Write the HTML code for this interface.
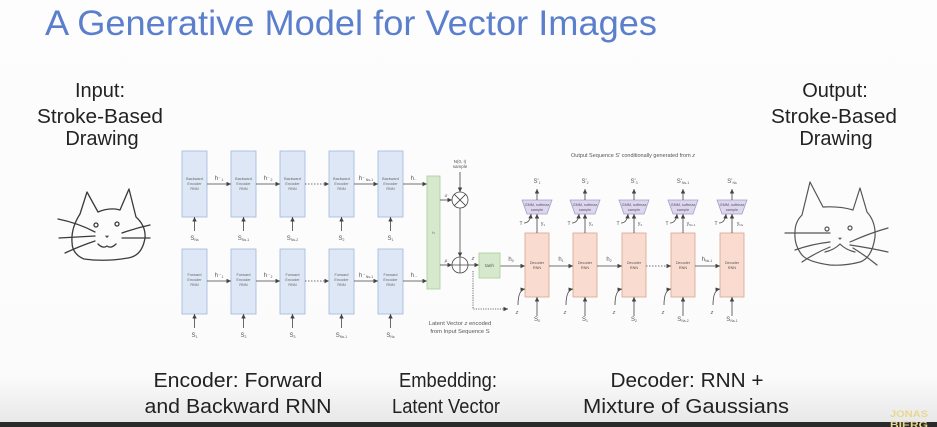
<!DOCTYPE html>
<html><head><meta charset="utf-8"><style>
html,body{margin:0;padding:0;width:937px;height:427px;overflow:hidden;background:#fdfdfd;}
svg{display:block}
</style></head><body>
<svg width="937" height="427" viewBox="0 0 937 427" xmlns="http://www.w3.org/2000/svg" font-family="Liberation Sans, sans-serif">
<defs>
<linearGradient id="bg" x1="0" y1="0" x2="0" y2="1">
<stop offset="0" stop-color="#fdfdfd"/><stop offset="0.88" stop-color="#fbfbfb"/><stop offset="1" stop-color="#e6e6e6"/>
</linearGradient>
<marker id="a" viewBox="0 0 6 6" refX="6" refY="3" markerUnits="userSpaceOnUse" markerWidth="4.5" markerHeight="4.5" orient="auto"><path d="M0,0L6,3L0,6z" fill="#444"/></marker>
</defs>
<rect width="937" height="427" fill="url(#bg)"/>
<rect x="0" y="422" width="937" height="5" fill="#2a2a2a"/>

<!-- Title -->
<text x="45" y="35" font-size="35" fill="#5b7fcc" textLength="612" lengthAdjust="spacingAndGlyphs">A Generative Model for Vector Images</text>

<!-- Side texts -->
<g font-size="20" fill="#222" text-anchor="middle">
<text x="100" y="97">Input:</text>
<text x="100" y="123" textLength="126" lengthAdjust="spacingAndGlyphs">Stroke-Based</text>
<text x="102" y="145">Drawing</text>
<text x="835" y="97">Output:</text>
<text x="834" y="123" textLength="126" lengthAdjust="spacingAndGlyphs">Stroke-Based</text>
<text x="836" y="145">Drawing</text>
</g>

<!-- Bottom texts -->
<g font-size="20" fill="#222" text-anchor="middle">
<text x="238" y="387" textLength="169" lengthAdjust="spacingAndGlyphs">Encoder: Forward</text>
<text x="238" y="413" textLength="187" lengthAdjust="spacingAndGlyphs">and Backward RNN</text>
<text x="448" y="387" textLength="98" lengthAdjust="spacingAndGlyphs">Embedding:</text>
<text x="446" y="413" textLength="108" lengthAdjust="spacingAndGlyphs">Latent Vector</text>
<text x="687" y="387" textLength="153" lengthAdjust="spacingAndGlyphs">Decoder: RNN +</text>
<text x="686" y="413" textLength="206" lengthAdjust="spacingAndGlyphs">Mixture of Gaussians</text>
</g>
<text x="890" y="417" font-size="9" font-weight="bold" fill="#e8d890" textLength="38" lengthAdjust="spacingAndGlyphs">JONAS</text>
<text x="890" y="428" font-size="9" font-weight="bold" fill="#e8d890" textLength="38" lengthAdjust="spacingAndGlyphs">BIERG</text>

<!-- Input cat -->
<g fill="none" stroke="#3a3a3a" stroke-width="1.3" stroke-linecap="round" stroke-linejoin="round">
<path d="M80,214 L87,192 L98,212 Q110,207 120,210 L129,189 L136,217 Q146,226 145,238 Q142,256 128,258 Q105,262 84,259 Q72,254 72,242 Q71,228 80,214"/>
<circle cx="96" cy="225" r="2"/><circle cx="117" cy="224" r="2"/>
<path d="M106,236 q1,2 2,0"/>
<path d="M98,244 Q103,249 107,246 Q111,249 116,244"/>
<path d="M58,219 Q78,223 95,232"/><path d="M59,238 L95,236"/><path d="M65,253 Q80,246 95,241"/>
<path d="M122,233 Q136,228 150,225"/><path d="M122,238 L150,238"/>
</g>

<!-- Output cat -->
<g fill="none" stroke="#555" stroke-width="1.2" stroke-linecap="round" stroke-linejoin="round">
<path d="M802,215 L810,182 L823,207 Q840,206 853,210 L860,188 L867,212 Q876,222 875,237 Q872,258 860,262 Q845,266 830,265 Q808,262 802,255 Q794,245 795,232 Q795,222 802,215"/>
<circle cx="827" cy="229" r="2"/><circle cx="850" cy="228" r="2"/>
<path d="M839,238 q1,2 2,0"/>
<path d="M825,252 Q834,250 840,244 Q846,250 855,252"/>
<path d="M785,233 L830,233"/><path d="M795,250 Q812,244 830,242"/><path d="M802,262 Q815,253 830,247"/>
<path d="M850,242 Q870,233 888,228"/><path d="M850,245 Q870,248 888,252"/><path d="M853,248 Q866,256 877,265"/>
</g>

<!-- Encoder -->
<g stroke="#9fb7db" stroke-width="0.8" fill="#dde7f6">
<rect x="182" y="151" width="25" height="66"/><rect x="231" y="151" width="25" height="66"/><rect x="280" y="151" width="25" height="66"/><rect x="329" y="151" width="25" height="66"/><rect x="378" y="151" width="25" height="66"/>
<rect x="182" y="249" width="25" height="65"/><rect x="231" y="249" width="25" height="65"/><rect x="280" y="249" width="25" height="65"/><rect x="329" y="249" width="25" height="65"/><rect x="378" y="249" width="25" height="65"/>
</g>
<g font-size="3.8" fill="#666" text-anchor="middle">
<g id="bw"><text x="194.5" y="180">Backward</text><text x="194.5" y="185">Encoder</text><text x="194.5" y="190">RNN</text></g>
<use href="#bw" x="49"/><use href="#bw" x="98"/><use href="#bw" x="147"/><use href="#bw" x="196"/>
<g id="fw"><text x="194.5" y="276">Forward</text><text x="194.5" y="281">Encoder</text><text x="194.5" y="286">RNN</text></g>
<use href="#fw" x="49"/><use href="#fw" x="98"/><use href="#fw" x="147"/><use href="#fw" x="196"/>
</g>
<g stroke="#444" stroke-width="0.8" fill="none" marker-end="url(#a)">
<line x1="207" y1="184" x2="231" y2="184"/><line x1="256" y1="184" x2="280" y2="184"/><line x1="305" y1="184" x2="329" y2="184" stroke-dasharray="1.5,1.5"/><line x1="354" y1="184" x2="378" y2="184"/><line x1="403" y1="184" x2="427" y2="184"/>
<line x1="207" y1="281" x2="231" y2="281"/><line x1="256" y1="281" x2="280" y2="281"/><line x1="305" y1="281" x2="329" y2="281" stroke-dasharray="1.5,1.5"/><line x1="354" y1="281" x2="378" y2="281"/><line x1="403" y1="281" x2="427" y2="281"/>
<line x1="194.5" y1="231" x2="194.5" y2="217"/><line x1="243.5" y1="231" x2="243.5" y2="217"/><line x1="292.5" y1="231" x2="292.5" y2="217"/><line x1="341.5" y1="231" x2="341.5" y2="217"/><line x1="390.5" y1="231" x2="390.5" y2="217"/>
<line x1="194.5" y1="328" x2="194.5" y2="314"/><line x1="243.5" y1="328" x2="243.5" y2="314"/><line x1="292.5" y1="328" x2="292.5" y2="314"/><line x1="341.5" y1="328" x2="341.5" y2="314"/><line x1="390.5" y1="328" x2="390.5" y2="314"/>
</g>
<g font-size="6" fill="#555" text-anchor="middle">
<text x="219" y="180">h<tspan font-size="3.5" dy="-2">←</tspan><tspan font-size="3.5" dy="3">1</tspan></text>
<text x="268" y="180">h<tspan font-size="3.5" dy="-2">←</tspan><tspan font-size="3.5" dy="3">2</tspan></text>
<text x="366" y="180">h<tspan font-size="3.5" dy="-2">←</tspan><tspan font-size="3.5" dy="3">Ns-1</tspan></text>
<text x="414" y="180">h<tspan font-size="3.5">←</tspan></text>
<text x="219" y="277">h<tspan font-size="3.5" dy="-2">→</tspan><tspan font-size="3.5" dy="3">1</tspan></text>
<text x="268" y="277">h<tspan font-size="3.5" dy="-2">→</tspan><tspan font-size="3.5" dy="3">2</tspan></text>
<text x="366" y="277">h<tspan font-size="3.5" dy="-2">→</tspan><tspan font-size="3.5" dy="3">Ns-1</tspan></text>
<text x="414" y="277">h<tspan font-size="3.5">→</tspan></text>
<text x="194.5" y="240">S<tspan font-size="3.5" dy="1">Ns</tspan></text>
<text x="243.5" y="240">S<tspan font-size="3.5" dy="1">Ns-1</tspan></text>
<text x="292.5" y="240">S<tspan font-size="3.5" dy="1">Ns-2</tspan></text>
<text x="341.5" y="240">S<tspan font-size="3.5" dy="1">2</tspan></text>
<text x="390.5" y="240">S<tspan font-size="3.5" dy="1">1</tspan></text>
<text x="194.5" y="337">S<tspan font-size="3.5" dy="1">1</tspan></text>
<text x="243.5" y="337">S<tspan font-size="3.5" dy="1">2</tspan></text>
<text x="292.5" y="337">S<tspan font-size="3.5" dy="1">3</tspan></text>
<text x="341.5" y="337">S<tspan font-size="3.5" dy="1">Ns-1</tspan></text>
<text x="390.5" y="337">S<tspan font-size="3.5" dy="1">Ns</tspan></text>
</g>

<!-- Embedding -->
<rect x="427" y="176" width="13" height="113" fill="#d6e9cd" stroke="#a9cc99" stroke-width="0.8"/>
<text x="433.5" y="234" font-size="4" fill="#555" text-anchor="middle">h</text>
<g stroke="#444" stroke-width="0.8" fill="#fff">
<circle cx="460" cy="200" r="8"/><circle cx="460" cy="265" r="8"/>
</g>
<g stroke="#444" stroke-width="0.8" fill="none">
<path d="M454.3,194.3L465.7,205.7M465.7,194.3L454.3,205.7"/>
<path d="M452,265H468M460,257V273"/>
</g>
<g stroke="#444" stroke-width="0.8" fill="none" marker-end="url(#a)">
<line x1="440" y1="200" x2="452" y2="200"/><line x1="440" y1="265" x2="452" y2="265"/>
<line x1="460" y1="172" x2="460" y2="192"/><line x1="460" y1="208" x2="460" y2="257"/>
<line x1="468" y1="265" x2="479" y2="265"/><line x1="500" y1="266" x2="525" y2="266"/>
<path d="M473,271V309H508" stroke-dasharray="1.2,1.2"/>
</g>
<g font-size="4.5" fill="#555" text-anchor="middle">
<text x="460" y="163">N(0, I)</text><text x="460" y="168">sample</text>
<text x="446" y="197" font-style="italic">σ</text><text x="446" y="262" font-style="italic">μ</text>
<text x="473" y="260" font-size="5.5" font-style="italic">z</text>
</g>
<rect x="479" y="253" width="21" height="25" fill="#d6e9cd" stroke="#a9cc99" stroke-width="0.8"/>
<text x="489.5" y="267" font-size="4.5" fill="#555" text-anchor="middle">tanh</text>
<text x="511" y="261" font-size="6" fill="#555" text-anchor="middle">h<tspan font-size="3.5" dy="1">0</tspan></text>
<text x="460" y="325" font-size="5.8" fill="#555" text-anchor="middle">Latent Vector <tspan font-style="italic">z</tspan> encoded</text>
<text x="460" y="333" font-size="5.8" fill="#555" text-anchor="middle">from Input Sequence S</text>

<!-- Decoder -->
<text x="633" y="157" font-size="5.5" fill="#555" text-anchor="middle">Output Sequence S' conditionally generated from <tspan font-style="italic">z</tspan></text>
<g stroke="#d6a58e" stroke-width="0.8" fill="#f9dccf">
<rect x="525" y="233" width="24" height="64"/><rect x="573" y="233" width="24" height="64"/><rect x="622" y="233" width="24" height="64"/><rect x="671" y="233" width="24" height="64"/><rect x="720" y="233" width="24" height="64"/>
</g>
<g stroke="#a89ccb" stroke-width="0.8" fill="#dcd6ee">
<g id="tz"><path d="M522,200H552L547,214H527Z"/></g>
<use href="#tz" x="48"/><use href="#tz" x="97"/><use href="#tz" x="146"/><use href="#tz" x="195"/>
</g>
<g font-size="3.8" fill="#555" text-anchor="middle">
<g id="dt"><text x="537" y="264">Decoder</text><text x="537" y="269">RNN</text><text x="537" y="206">GMM, softmax</text><text x="537" y="211">sample</text></g>
<use href="#dt" x="48"/><use href="#dt" x="97"/><use href="#dt" x="146"/><use href="#dt" x="195"/>
</g>
<g stroke="#444" stroke-width="0.8" fill="none" marker-end="url(#a)">
<g id="dl">
<line x1="537" y1="233" x2="537" y2="214"/>
<line x1="537" y1="200" x2="537" y2="189"/>
<line x1="537" y1="316" x2="537" y2="297"/>
<path d="M518,305Q518,290 525,289"/>
<path d="M524,223Q530,223 531,214"/>
</g>
<use href="#dl" x="48"/><use href="#dl" x="97"/><use href="#dl" x="146"/><use href="#dl" x="195"/>
<line x1="549" y1="266" x2="573" y2="266"/><line x1="597" y1="266" x2="622" y2="266"/><line x1="646" y1="266" x2="671" y2="266" stroke-dasharray="1.5,1.5"/><line x1="695" y1="266" x2="720" y2="266"/>
</g>
<g font-size="6" fill="#555" text-anchor="middle">
<text x="537" y="183">S'<tspan font-size="3.5" dy="1">1</tspan></text>
<text x="585" y="183">S'<tspan font-size="3.5" dy="1">2</tspan></text>
<text x="634" y="183">S'<tspan font-size="3.5" dy="1">3</tspan></text>
<text x="683" y="183">S'<tspan font-size="3.5" dy="1">Ns-1</tspan></text>
<text x="732" y="183">S'<tspan font-size="3.5" dy="1">Ns</tspan></text>
<g id="tl"><text x="521" y="225" font-size="5">T</text><text x="517" y="314" font-size="5.5" font-style="italic">z</text></g>
<use href="#tl" x="48"/><use href="#tl" x="97"/><use href="#tl" x="146"/><use href="#tl" x="195"/>
<text x="543" y="225" font-size="5">y<tspan font-size="3" dy="1">1</tspan></text>
<text x="591" y="225" font-size="5">y<tspan font-size="3" dy="1">2</tspan></text>
<text x="640" y="225" font-size="5">y<tspan font-size="3" dy="1">3</tspan></text>
<text x="691" y="225" font-size="5">y<tspan font-size="3" dy="1">Ns-1</tspan></text>
<text x="740" y="225" font-size="5">y<tspan font-size="3" dy="1">Ns</tspan></text>
<text x="537" y="321">S<tspan font-size="3.5" dy="1">0</tspan></text>
<text x="585" y="321">S<tspan font-size="3.5" dy="1">1</tspan></text>
<text x="634" y="321">S<tspan font-size="3.5" dy="1">2</tspan></text>
<text x="683" y="321">S<tspan font-size="3.5" dy="1">Ns-2</tspan></text>
<text x="732" y="321">S<tspan font-size="3.5" dy="1">Ns-1</tspan></text>
<text x="561" y="261">h<tspan font-size="3.5" dy="1">1</tspan></text>
<text x="609" y="261">h<tspan font-size="3.5" dy="1">2</tspan></text>
<text x="707" y="261">h<tspan font-size="3.5" dy="1">Ns-1</tspan></text>
</g>
</svg>
</body></html>
